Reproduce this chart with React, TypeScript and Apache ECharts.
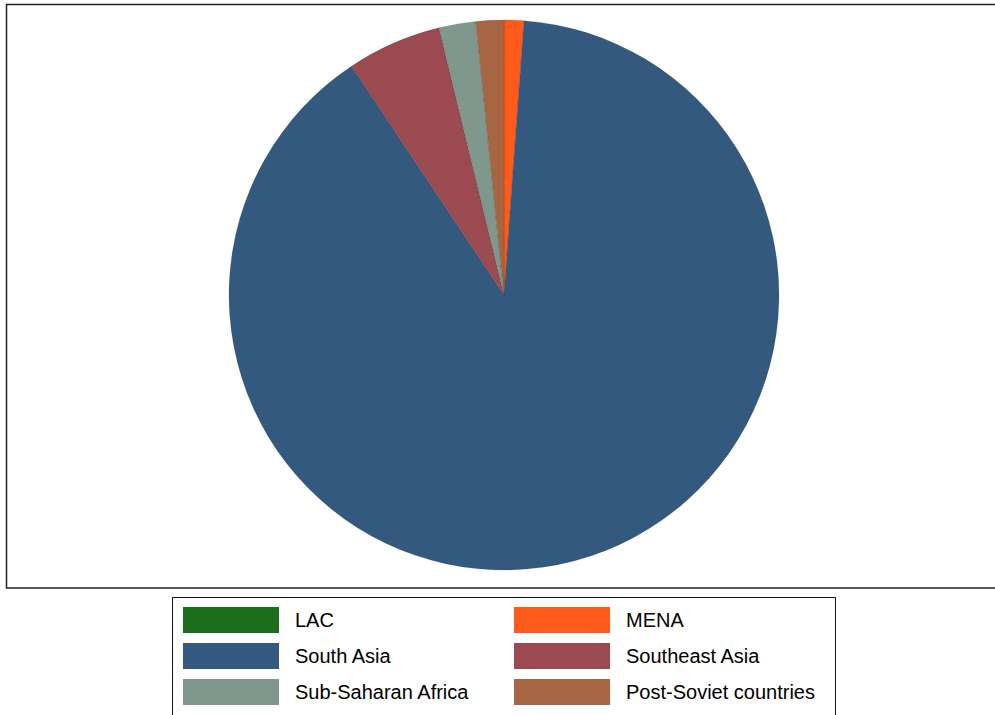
import React, { useEffect, useRef } from "react";
import * as echarts from "echarts";

const categories = ["LAC", "MENA", "South Asia", "Southeast Asia", "Sub-Saharan Africa", "Post-Soviet countries"];
const shares = [0, 1.16, 89.48, 5.56, 2.17, 1.63];
const colors = ["#1c6e1c", "#ff5a19", "#335a7e", "#9b4a51", "#7f978d", "#a86544"];
const legendCol1 = ["LAC", "South Asia", "Sub-Saharan Africa"];
const legendCol2 = ["MENA", "Southeast Asia", "Post-Soviet countries"];

export default function App() {
  const ref = useRef<HTMLDivElement>(null);
  useEffect(() => {
    if (!ref.current) return;
    const chart = echarts.init(ref.current, undefined, { renderer: "svg" });
    const font = "'Liberation Sans', Arial, Helvetica, sans-serif";
    const legendBase = {
      orient: "vertical" as const,
      top: 607,
      itemWidth: 96,
      itemHeight: 26,
      itemGap: 10,
      padding: 0,
      icon: "rect",
      selectedMode: false,
      textStyle: { fontFamily: font, fontSize: 20, color: "#000", padding: [0, 0, 0, 11] },
      itemStyle: { borderWidth: 0 },
    };
    chart.setOption({
      animation: false,
      backgroundColor: "#fff",
      color: colors,
      graphic: [
        {
          type: "rect",
          shape: { x: 6.5, y: 4.5, width: 1000, height: 583.5 },
          style: { fill: "none", stroke: "#222", lineWidth: 1.5 },
          z: 10,
        },
        {
          type: "rect",
          shape: { x: 172.5, y: 597.5, width: 663, height: 140 },
          style: { fill: "none", stroke: "#111", lineWidth: 1 },
          z: 10,
        },
      ],
      legend: [
        { ...legendBase, left: 183, data: legendCol1 },
        { ...legendBase, left: 514, data: legendCol2 },
      ],
      series: [
        {
          type: "pie",
          center: [504, 295],
          radius: [0, 275],
          startAngle: 90,
          clockwise: true,
          label: { show: false },
          labelLine: { show: false },
          emphasis: { disabled: true },
          itemStyle: { borderColor: "rgba(0,0,0,0.3)", borderWidth: 0.4 },
          data: categories.map((name, i) => ({ name, value: shares[i] })),
        },
      ],
    });
    return () => chart.dispose();
  }, []);
  return <div ref={ref} style={{ width: 995, height: 715, position: "absolute", left: 0, top: 0 }} />;
}
